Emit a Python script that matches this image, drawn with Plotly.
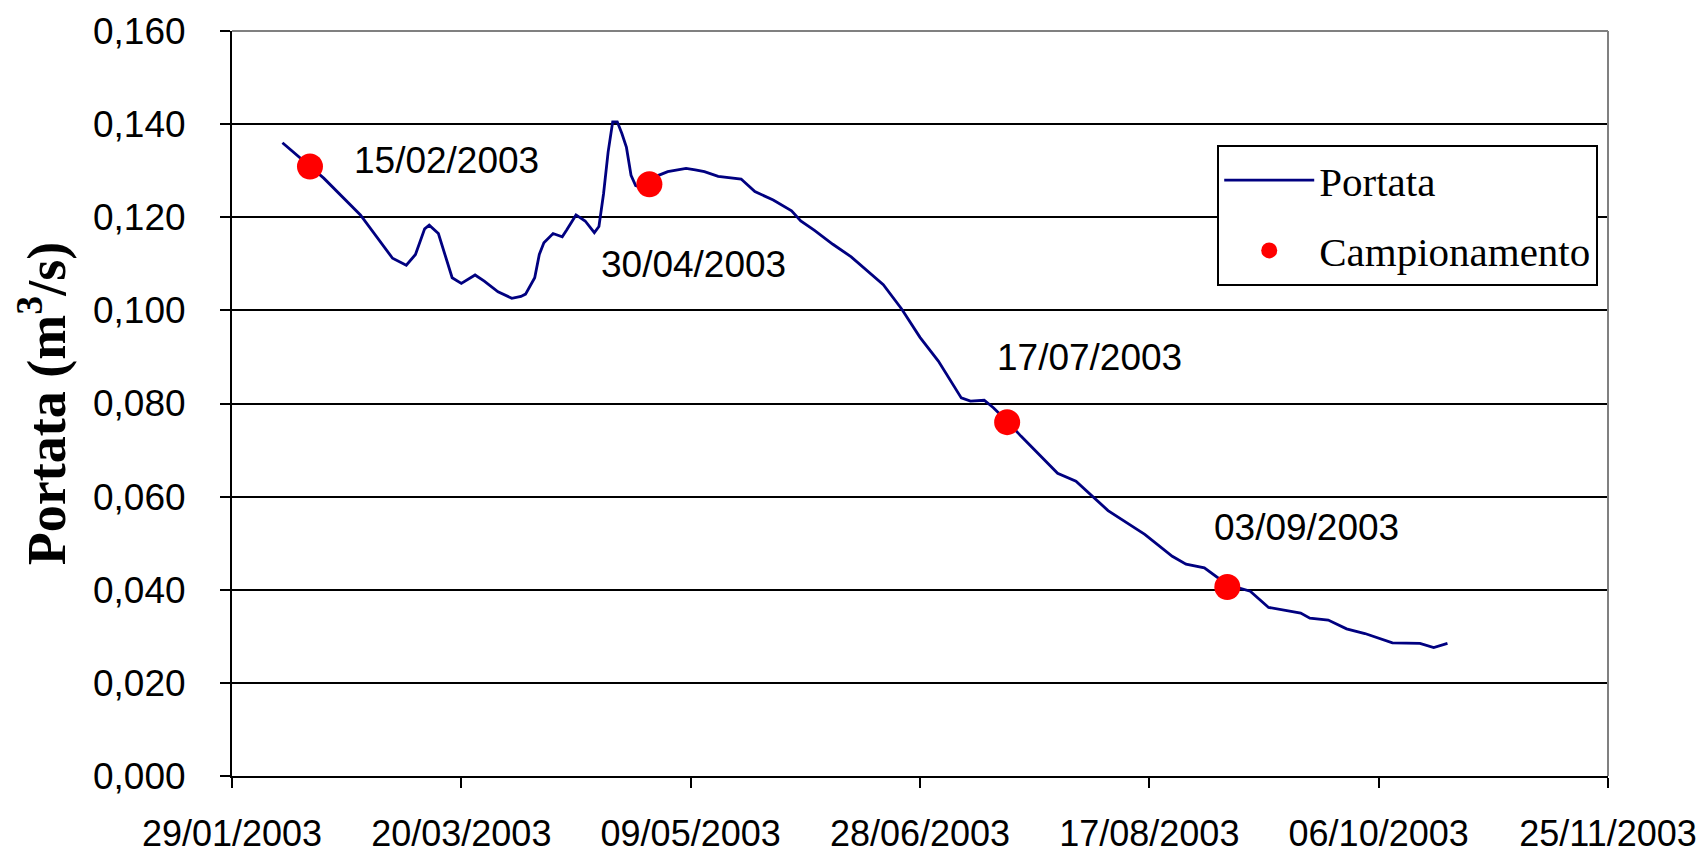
import plotly.graph_objects as go

# Portata giornaliera (m3/s)
date_portata = [
    "2003-02-09", "2003-02-15", "2003-02-18", "2003-02-26", "2003-03-05", "2003-03-08",
    "2003-03-10", "2003-03-12", "2003-03-13", "2003-03-15", "2003-03-18", "2003-03-20",
    "2003-03-23", "2003-03-25", "2003-03-28", "2003-03-31", "2003-04-02", "2003-04-03",
    "2003-04-05", "2003-04-06", "2003-04-07", "2003-04-09", "2003-04-11", "2003-04-12",
    "2003-04-14", "2003-04-16", "2003-04-18", "2003-04-19", "2003-04-20", "2003-04-21",
    "2003-04-22", "2003-04-23", "2003-04-24", "2003-04-25", "2003-04-26", "2003-04-27",
    "2003-04-28", "2003-04-29", "2003-04-30", "2003-05-02", "2003-05-04", "2003-05-08",
    "2003-05-10", "2003-05-12", "2003-05-15", "2003-05-19", "2003-05-20", "2003-05-23",
    "2003-05-27", "2003-05-31", "2003-06-02", "2003-06-05", "2003-06-09", "2003-06-13",
    "2003-06-16", "2003-06-20", "2003-06-24", "2003-06-28", "2003-07-02", "2003-07-07",
    "2003-07-09", "2003-07-12", "2003-07-14", "2003-07-17", "2003-07-20", "2003-07-24",
    "2003-07-28", "2003-08-01", "2003-08-05", "2003-08-08", "2003-08-16", "2003-08-22",
    "2003-08-25", "2003-08-29", "2003-09-03", "2003-09-08", "2003-09-12", "2003-09-19",
    "2003-09-21", "2003-09-25", "2003-09-29", "2003-10-03", "2003-10-09", "2003-10-15",
    "2003-10-18", "2003-10-21",
]
portata = [
    0.1360, 0.1309, 0.1284, 0.1205, 0.1112, 0.1097,
    0.1120, 0.1175, 0.1183, 0.1165, 0.1070, 0.1058,
    0.1076, 0.1063, 0.1040, 0.1026, 0.1030, 0.1035,
    0.1070, 0.1120, 0.1145, 0.1165, 0.1158, 0.1173,
    0.1205, 0.1192, 0.1167, 0.1180, 0.1250, 0.1340,
    0.1405, 0.1405, 0.1380, 0.1350, 0.1290, 0.1268,
    0.1265, 0.1268, 0.1275, 0.1290, 0.1298, 0.1305,
    0.1302, 0.1298, 0.1288, 0.1284, 0.1282, 0.1255,
    0.1237, 0.1214, 0.1192, 0.1172, 0.1142, 0.1115,
    0.1090, 0.1055, 0.1003, 0.0942, 0.0891, 0.0812,
    0.0805, 0.0807, 0.0791, 0.0762, 0.0730, 0.0690,
    0.0650, 0.0633, 0.0598, 0.0570, 0.0519, 0.0472,
    0.0455, 0.0447, 0.0411, 0.0397, 0.0362, 0.0350,
    0.0339, 0.0335, 0.0316, 0.0306, 0.0286, 0.0285,
    0.0276, 0.0285,
]

# Campionamenti
date_camp = ["2003-02-15", "2003-04-30", "2003-07-17", "2003-09-03"]
portata_camp = [0.1309, 0.1271, 0.0760, 0.0406]
etichette_camp = ["15/02/2003", "30/04/2003", "17/07/2003", "03/09/2003"]
# spostamento delle etichette rispetto al punto (pixel)
shift_x = [137, 44, 82, 79]
shift_y = [6, -80, 65, 59]

fig = go.Figure()

fig.add_trace(go.Scatter(
    x=date_portata, y=portata, mode="lines", name="Portata",
    line=dict(color="#000080", width=2.8),
    legendgroup="a",
))
fig.add_trace(go.Scatter(
    x=date_camp, y=portata_camp, mode="markers", name="Campionamento",
    marker=dict(color="#ff0000", size=26),
    legendgroup="b",
))

for d, v, t, sx, sy in zip(date_camp, portata_camp, etichette_camp, shift_x, shift_y):
    fig.add_annotation(x=d, y=v, text=t, showarrow=False, xshift=sx, yshift=sy,
                       font=dict(family="Liberation Sans", size=37, color="black"))

# bordo superiore e destro grigio
fig.add_shape(type="line", xref="paper", yref="paper", x0=0, x1=1, y0=1, y1=1,
              line=dict(color="#808080", width=2), layer="above")
fig.add_shape(type="line", xref="paper", yref="paper", x0=1, x1=1, y0=0, y1=1,
              line=dict(color="#808080", width=2), layer="above")

fig.update_xaxes(
    type="date",
    range=["2003-01-29", "2003-11-25"],
    tick0="2003-01-29", dtick=50 * 86400000,
    tickformat="%d/%m/%Y",
    showgrid=False, zeroline=False,
    showline=True, linecolor="black", linewidth=2,
    ticks="outside", ticklen=10, tickwidth=2, tickcolor="black",
    ticklabelstandoff=15, ticklabeloverflow="allow",
    tickfont=dict(family="Liberation Sans", size=36, color="black"),
    automargin=False,
)
fig.update_yaxes(
    range=[0, 0.16], dtick=0.02, tickformat=".3f",
    showgrid=True, gridcolor="black", gridwidth=2,
    zeroline=False,
    showline=True, linecolor="black", linewidth=2,
    ticks="outside", ticklen=10, tickwidth=2, tickcolor="black",
    ticklabelstandoff=27,
    tickfont=dict(family="Liberation Sans", size=37, color="black"),
    title=dict(text="<b>Portata (m<sup>3</sup>/s)</b>", standoff=20,
               font=dict(family="Liberation Serif", size=54, color="black")),
    automargin=False,
)

# la pagina ha un margine di 8 px: la figura ne tiene conto
fig.update_layout(
    width=1691, height=846,
    separators=",.",
    paper_bgcolor="white", plot_bgcolor="white",
    margin=dict(l=224, r=91, t=23, b=78, autoexpand=False),
    showlegend=True,
    legend=dict(
        x=0.716, y=0.847, xanchor="left", yanchor="top",
        bgcolor="white", bordercolor="black", borderwidth=2,
        font=dict(family="Liberation Serif", size=41, color="black"),
        traceorder="grouped", tracegroupgap=14, itemwidth=90,
    ),
)

fig.write_html("out.html")
